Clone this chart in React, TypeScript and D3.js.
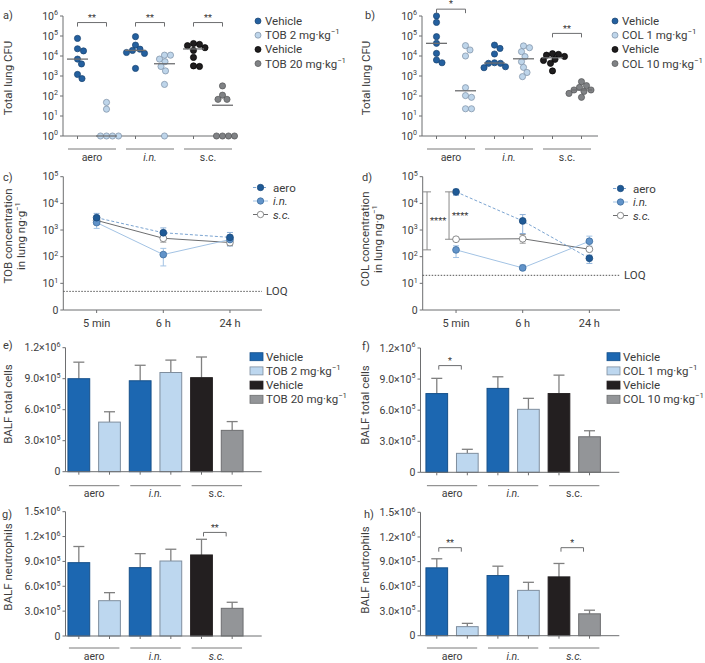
import React, { useEffect, useRef } from "react";
import * as d3 from "d3";

const W = 705;
const H = 663;
const FONT = "Roboto, 'DejaVu Sans', Arial, sans-serif";
const TXT = "#3c3c3c";
const AX = "#6d6e70";

// ---------- data ----------
const groups = ["aero", "i.n.", "s.c."];
const tobLegend = ["Vehicle", "TOB 2 mg·kg^{−1}", "Vehicle", "TOB 20 mg·kg^{−1}"];
const colLegend = ["Vehicle", "COL 1 mg·kg^{−1}", "Vehicle", "COL 10 mg·kg^{−1}"];
// which column's colour each legend row uses
const legendCols = [0, 1, 4, 5];

// a) total lung CFU, tobramycin (one array per column)
const cfuTob = [
  [7.6e4, 1.8e4, 2.3e4, 7e3, 4e3, 1.2e3, 7.4e2],
  [48, 22, 1, 1, 1, 1],
  [9.3e4, 3.5e4, 2.2e4, 1.5e4, 1.35e4, 1.9e4, 2.4e3],
  [1.1e4, 7e3, 5.2e3, 1.1e4, 1.8e3, 3e3, 3.8e2, 1],
  [4.2e4, 2.6e4, 3.3e4, 3.8e4, 1.9e4, 8.5e3, 3e3, 3.2e3],
  [3.2e2, 68, 68, 1.1e2, 1, 1, 1, 1],
];
// b) total lung CFU, colistin
const cfuCol = [
  [1e6, 4.8e5, 9.3e4, 4.3e4, 1.35e4, 4.6e3, 6.3e3],
  [2e4, 3.3e4, 1e4, 2.6e2, 1.05e2, 86, 23, 23],
  [2.4e4, 3.5e4, 1.26e4, 4.3e3, 4.3e3, 4.6e3, 2.6e3, 2.9e3],
  [2.6e4, 3.2e4, 1.65e4, 9.3e3, 5.2e3, 2.7e3, 1.5e3, 9.3e2],
  [1.2e4, 9.5e3, 6.8e3, 4.3e3, 1.1e4, 1.3e4, 1.8e3, 6e3],
  [3.3e2, 2.7e2, 5.2e2, 2e2, 2e2, 1.35e2, 86, 1.7e2],
];
// significance: [column i, column j, bracket level, stars]
const sigA = [[0, 1, 4.7e5, "**"], [2, 3, 4.7e5, "**"], [4, 5, 4.7e5, "**"]];
const sigB = [[0, 1, 2.2e6, "*"], [4, 5, 1.35e5, "**"]];

// c/d) lung concentration: [mean, low, high] per time point
const times = ["5 min", "6 h", "24 h"];
const concSeries = ["aero", "i.n.", "s.c."];
const tobAero = [[2900, 2100, 4200], [790, 520, 1200], [530, 380, 810]];
const tobIn = [[1900, 1150, 2600], [120, 45, 205], [440, 250, 600]];
const tobSc = [[2300, 1600, 3300], [490, 350, 700], [340, 260, 450]];
const colAero = [[2.7e4, 2e4, 3.4e4], [2.2e3, 7.4e2, 3.8e3], [87, 56, 115]];
const colIn = [[180, 93, 257], [38, 32, 49], [380, 250, 590]];
const colSc = [[450, 400, 500], [470, 320, 680], [190, 170, 210]];
const tobLoq = 5;
const colLoq = 20;

// e-h) BALF cells: means and SEM
const cellsTob = [9.0e5, 4.8e5, 8.8e5, 9.6e5, 9.1e5, 4.0e5];
const cellsTobErr = [1.6e5, 1.0e5, 1.5e5, 1.2e5, 2.0e5, 0.85e5];
const cellsCol = [7.6e5, 1.83e5, 8.1e5, 6.08e5, 7.6e5, 3.43e5];
const cellsColErr = [1.47e5, 0.39e5, 1.12e5, 1.06e5, 1.78e5, 0.58e5];
const neutTob = [8.85e5, 4.26e5, 8.25e5, 9.05e5, 9.78e5, 3.34e5];
const neutTobErr = [1.95e5, 0.97e5, 1.69e5, 1.42e5, 1.89e5, 0.73e5];
const neutCol = [8.25e5, 1.1e5, 7.31e5, 5.51e5, 7.15e5, 2.66e5];
const neutColErr = [1.1e5, 0.4e5, 1.14e5, 0.98e5, 1.63e5, 0.44e5];
const sigF = [[0, 1, 1.03e6, "*"]];
const sigG = [[4, 5, 1.25e6, "**"]];
const sigH = [[0, 1, 1.07e6, "**"], [4, 5, 1.07e6, "*"]];

// ---------- styles ----------
const dotFill = ["#24609f", "#bed5ea", "#24609f", "#bed5ea", "#1f1d1e", "#808285"];
const dotStroke = ["#1a4470", "#7b8ea3", "#1a4470", "#7b8ea3", "#000", "#555658"];
const barFill = ["#1c67b1", "#bdd7ef", "#1c67b1", "#bdd7ef", "#231f20", "#939598"];
const barStroke = ["#16508a", "#7f8e9e", "#16508a", "#7f8e9e", "#231f20", "#6d6e70"];

// ---------- helpers ----------
function rich(t: any, s: string, fs: number) {
  const parts = s.split(/\^\{([^}]*)\}/);
  let cur = 0;
  parts.forEach((p, i) => {
    if (p === "") return;
    const sup = i % 2 === 1;
    const target = sup ? -fs * 0.42 : 0;
    t.append("tspan")
      .attr("dy", target - cur)
      .attr("font-size", sup ? fs * 0.68 : fs)
      .text(p);
    cur = target;
  });
}

function text(g: any, x: number, y: number, s: string, o: any = {}) {
  const fs = o.size || 11;
  const t = g
    .append("text")
    .attr("x", x)
    .attr("y", y + fs * 0.35)
    .attr("font-family", FONT)
    .attr("font-size", fs)
    .attr("fill", o.fill || TXT)
    .attr("text-anchor", o.anchor || "start")
    .style("font-style", o.italic ? "italic" : "normal");
  rich(t, s, fs);
  return t;
}

function vtext(g: any, x: number, y: number, s: string, fs = 11.5) {
  const t = g
    .append("text")
    .attr("transform", `translate(${x},${y}) rotate(-90)`)
    .attr("y", fs * 0.35)
    .attr("font-family", FONT)
    .attr("font-size", fs)
    .attr("fill", TXT)
    .attr("text-anchor", "middle");
  rich(t, s, fs);
}

function line(g: any, x1: number, y1: number, x2: number, y2: number, stroke = AX, w = 1) {
  return g
    .append("line")
    .attr("x1", x1)
    .attr("y1", y1)
    .attr("x2", x2)
    .attr("y2", y2)
    .attr("stroke", stroke)
    .attr("stroke-width", w);
}

function yAxis(g: any, x: number, y: any, ticks: number[], fmt: (v: number) => string) {
  const [r0, r1] = y.range();
  line(g, x, r0, x, r1);
  ticks.forEach((v) => {
    line(g, x - 3, y(v), x, y(v));
    text(g, x - 5, y(v), fmt(v), { anchor: "end", size: 10.5 });
  });
}

function bracket(g: any, x1: number, x2: number, y: number, label: string) {
  g.append("path")
    .attr("d", `M${x1},${y + 4}V${y}H${x2}V${y + 4}`)
    .attr("fill", "none")
    .attr("stroke", AX)
    .attr("stroke-width", 1);
  text(g, (x1 + x2) / 2, y - 5, label, { anchor: "middle", size: 9, fill: "#333" });
}

function groupAxis(g: any, centers: number[], half: number, yLine: number, italic: boolean[]) {
  groups.forEach((name, i) => {
    const c0 = centers[2 * i];
    const c1 = centers[2 * i + 1];
    line(g, c0 - half, yLine, c1 + half, yLine, "#7a7a7a", 1);
    text(g, (c0 + c1) / 2, yLine + 8, name, { anchor: "middle", size: 10.5, italic: italic[i] });
  });
}

function swarm(vals: number[], y: any, r: number) {
  const pts = vals.map((v) => ({ v, py: y(v), dx: 0 })).sort((a, b) => a.py - b.py);
  const placed: any[] = [];
  const dmin = 2 * r - 0.2;
  pts.forEach((p) => {
    for (let k = 0; k < 400; k++) {
      const off = (k % 2 ? 1 : -1) * Math.ceil(k / 2) * 0.5;
      const ok = placed.every((q) => (off - q.dx) ** 2 + (p.py - q.py) ** 2 >= dmin * dmin);
      if (ok) {
        p.dx = off;
        break;
      }
    }
    placed.push(p);
  });
  return placed;
}

function legendRows(g: any, x: number, y0: number, labels: string[], mark: (row: any, col: number, y: number) => void) {
  labels.forEach((s, i) => {
    const y = y0 + i * 14.2;
    mark(g, legendCols[i], y);
    text(g, x, y, s, { size: 11.5 });
  });
}

// ---------- panels ----------
function dotPanel(svg: any, p: any) {
  const g = svg.append("g");
  const y = d3.scaleLog().domain([1, 1e6]).range([136, 16]);
  const x = d3.scalePoint<number>().domain(d3.range(6)).range([p.b0, p.b1]).padding(0.5);
  const centers = d3.range(6).map((i) => x(i) as number);

  yAxis(g, p.ax, y, [1, 10, 100, 1e3, 1e4, 1e5, 1e6], (v) => `10^{${Math.round(Math.log10(v))}}`);
  line(g, p.ax, y(1), p.axEnd, y(1));
  centers.forEach((c) => line(g, c, y(1), c, y(1) + 3));
  groupAxis(g, centers, 9.5, 149, [false, true, false]);

  const r = 3.1;
  p.data.forEach((vals: number[], i: number) => {
    swarm(vals, y, r).forEach((q: any) => {
      g.append("circle")
        .attr("cx", centers[i] + q.dx)
        .attr("cy", q.py)
        .attr("r", r)
        .attr("fill", dotFill[i])
        .attr("stroke", dotStroke[i])
        .attr("stroke-width", 0.7);
    });
    const med = d3.median(vals) as number;
    line(g, centers[i] - 10.5, y(med), centers[i] + 10.5, y(med), "#6d6e70", 1.3);
  });

  p.sig.forEach(([i, j, lv, s]: any) => bracket(g, centers[i], centers[j], y(lv), s));

  legendRows(g, p.legX + 7, 21, p.legend, (gg, c, yy) => {
    gg.append("circle")
      .attr("cx", p.legX)
      .attr("cy", yy)
      .attr("r", 3)
      .attr("fill", dotFill[c])
      .attr("stroke", dotStroke[c])
      .attr("stroke-width", 0.7);
  });

  vtext(g, p.labX, 78, "Total lung CFU");
  text(g, p.letterX, 15, p.letter, { size: 11 });
}

const seriesStyle = [
  { line: "#7ba4d1", dash: "3,2", fill: "#1f5a96", stroke: "#1a4a7c", err: "#8fb1d8" },
  { line: "#a3c3e4", dash: null, fill: "#6193c9", stroke: "#3f6f9f", err: "#a3c3e4" },
  { line: "#6d6e70", dash: null, fill: "#fff", stroke: "#6d6e70", err: "#9a9a9a" },
];

function linePanel(svg: any, p: any) {
  const g = svg.append("g");
  const y = d3.scaleLog().domain([1, 1e5]).range([310, 176.7]);
  const x = d3.scalePoint<string>().domain(times).range([p.ax, p.ax + 200]).padding(0.5);

  yAxis(g, p.ax, y, [1, 10, 100, 1e3, 1e4, 1e5], (v) =>
    v === 1 ? "0" : `10^{${Math.round(Math.log10(v))}}`
  );
  line(g, p.ax, y(1), p.axEnd, y(1));
  times.forEach((t) => {
    line(g, x(t) as number, y(1), x(t) as number, y(1) + 3);
    text(g, x(t) as number, y(1) + 13, t, { anchor: "middle", size: 11 });
  });

  // LOQ
  line(g, p.ax, y(p.loq), p.axEnd, y(p.loq), "#555", 1).attr("stroke-dasharray", "1.5,1.5");
  text(g, p.axEnd + 4, y(p.loq), "LOQ", { size: 11.5 });

  const lineGen = d3
    .line<number[]>()
    .x((_, i) => x(times[i]) as number)
    .y((d) => y(d[0]));

  // error bars first
  p.series.forEach((s: number[][], k: number) => {
    const st = seriesStyle[k];
    s.forEach((d, i) => {
      const cx = x(times[i]) as number;
      line(g, cx, y(d[1]), cx, y(d[2]), st.err, 1);
      line(g, cx - 3, y(d[1]), cx + 3, y(d[1]), st.err, 1);
      line(g, cx - 3, y(d[2]), cx + 3, y(d[2]), st.err, 1);
    });
  });
  [2, 1, 0].forEach((k) => {
    const st = seriesStyle[k];
    g.append("path")
      .datum(p.series[k])
      .attr("d", lineGen)
      .attr("fill", "none")
      .attr("stroke", st.line)
      .attr("stroke-width", 1)
      .attr("stroke-dasharray", st.dash);
  });
  [2, 1, 0].forEach((k) => {
    const st = seriesStyle[k];
    p.series[k].forEach((d: number[], i: number) => {
      g.append("circle")
        .attr("cx", x(times[i]) as number)
        .attr("cy", y(d[0]))
        .attr("r", 3.4)
        .attr("fill", st.fill)
        .attr("stroke", st.stroke)
        .attr("stroke-width", 0.8);
    });
  });

  // vertical significance brackets at 5 min
  if (p.vsig) {
    const cx = x(times[0]) as number;
    const top = y(p.series[0][0][0]);
    p.vsig.forEach(([k, s]: any, n: number) => {
      const bot = y(p.series[k][0][0]);
      const bx = n === 0 ? cx - 29 : cx - 7;
      g.append("path")
        .attr("d", `M${bx - 4},${top}H${bx + 4}M${bx},${top}V${bot}M${bx - 4},${bot}H${bx + 4}`)
        .attr("stroke", "#8a8a8a")
        .attr("fill", "none");
      text(g, bx + 3, (top + bot) / 2, s, { size: 9.5, fill: "#333" });
    });
  }

  // legend
  concSeries.forEach((s, k) => {
    const st = seriesStyle[k];
    const yy = p.legY + k * 13.5;
    line(g, p.legX, yy, p.legX + 15, yy, st.line, 1).attr("stroke-dasharray", st.dash);
    g.append("circle")
      .attr("cx", p.legX + 7.5)
      .attr("cy", yy)
      .attr("r", 3.2)
      .attr("fill", st.fill)
      .attr("stroke", st.stroke)
      .attr("stroke-width", 0.8);
    text(g, p.legX + 20, yy, s, { size: 11.5, italic: k > 0 });
  });

  vtext(g, p.labX, p.labY, `${p.drug} concentration`);
  vtext(g, p.labX + 13, p.labY, "in lung ng·g^{−1}");
  text(g, p.letterX, 177, p.letter, { size: 11 });
}

function barFmt(v: number) {
  if (v === 0) return "0";
  const e = Math.floor(Math.log10(v) + 1e-9);
  return `${(v / 10 ** e).toFixed(1)}×10^{${e}}`;
}

function barPanel(svg: any, p: any) {
  const g = svg.append("g");
  const y = d3.scaleLinear().domain([0, p.yMax]).range([p.y0, p.y1]);
  const x = d3
    .scaleBand<number>()
    .domain(d3.range(6))
    .range([p.b0, p.b1])
    .paddingInner(0.29)
    .paddingOuter(0.145);
  const bw = x.bandwidth();
  const centers = d3.range(6).map((i) => (x(i) as number) + bw / 2);

  yAxis(g, p.ax, y, d3.range(0, p.yMax + 1, 3e5), barFmt);

  p.vals.forEach((v: number, i: number) => {
    const cx = centers[i];
    const top = y(v + p.err[i]);
    line(g, cx, y(v), cx, top, "#808080", 1.3);
    line(g, cx - 5.5, top, cx + 5.5, top, "#808080", 1.3);
    g.append("rect")
      .attr("x", x(i) as number)
      .attr("y", y(v))
      .attr("width", bw)
      .attr("height", y(0) - y(v))
      .attr("fill", barFill[i])
      .attr("stroke", barStroke[i])
      .attr("stroke-width", 1);
  });

  line(g, p.ax, y(0), p.axEnd, y(0));
  centers.forEach((c) => line(g, c, y(0), c, y(0) + 3));
  groupAxis(g, centers, bw / 2 - 1, p.groupY, [false, true, p.scItalic]);

  p.sig.forEach(([i, j, lv, s]: any) => bracket(g, centers[i] + 2, centers[j] - 6, y(lv), s));

  if (p.legend) {
    legendRows(g, p.legX + 16, 356.7, p.legend, (gg, c, yy) => {
      gg.append("rect")
        .attr("x", p.legX)
        .attr("y", yy - 4)
        .attr("width", 13)
        .attr("height", 8)
        .attr("fill", barFill[c])
        .attr("stroke", barStroke[c])
        .attr("stroke-width", 0.8);
    });
  }

  vtext(g, p.labX, p.labY, p.yLabel);
  text(g, p.letterX, p.letterY, p.letter, { size: 11 });
}

export default function App() {
  const ref = useRef<SVGSVGElement>(null);

  useEffect(() => {
    const svg = d3.select(ref.current);
    svg.selectAll("*").remove();
    svg.append("rect").attr("width", W).attr("height", H).attr("fill", "#fff");

    dotPanel(svg, {
      data: cfuTob, legend: tobLegend, sig: sigA,
      ax: 63, axEnd: 237, b0: 63, b1: 237, legX: 258, labX: 8, letter: "a)", letterX: 3,
    });
    dotPanel(svg, {
      data: cfuCol, legend: colLegend, sig: sigB,
      ax: 422, axEnd: 598, b0: 422, b1: 596, legX: 615, labX: 366, letter: "b)", letterX: 365,
    });

    linePanel(svg, {
      series: [tobAero, tobIn, tobSc], loq: tobLoq, drug: "TOB",
      ax: 63.3, axEnd: 262, legX: 253, legY: 187.5, labX: 8, labY: 236, letter: "c)", letterX: 3,
    });
    linePanel(svg, {
      series: [colAero, colIn, colSc], loq: colLoq, drug: "COL", vsig: [[1, "****"], [2, "****"]],
      ax: 422.7, axEnd: 620, legX: 613, legY: 188.5, labX: 365, labY: 239, letter: "d)", letterX: 362,
    });

    barPanel(svg, {
      vals: cellsTob, err: cellsTobErr, sig: [], legend: tobLegend, legX: 250,
      yMax: 1.2e6, y0: 471.7, y1: 347.7, ax: 65.5, axEnd: 261.7, b0: 63.5, b1: 247.5,
      groupY: 485.7, scItalic: false, yLabel: "BALF total cells", labX: 8, labY: 404,
      letter: "e)", letterX: 3, letterY: 345,
    });
    barPanel(svg, {
      vals: cellsCol, err: cellsColErr, sig: sigF, legend: colLegend, legX: 607,
      yMax: 1.2e6, y0: 472.3, y1: 348, ax: 420.5, axEnd: 619.3, b0: 421.5, b1: 604.8,
      groupY: 485.7, scItalic: false, yLabel: "BALF total cells", labX: 365, labY: 405,
      letter: "f)", letterX: 362, letterY: 346,
    });
    barPanel(svg, {
      vals: neutTob, err: neutTobErr, sig: sigG, legend: null,
      yMax: 1.5e6, y0: 636, y1: 511.7, ax: 65.5, axEnd: 261.7, b0: 63.5, b1: 247.5,
      groupY: 648, scItalic: true, yLabel: "BALF neutrophils", labX: 8, labY: 567,
      letter: "g)", letterX: 2, letterY: 514,
    });
    barPanel(svg, {
      vals: neutCol, err: neutColErr, sig: sigH, legend: null,
      yMax: 1.5e6, y0: 635.7, y1: 512.3, ax: 420.5, axEnd: 619.3, b0: 421.5, b1: 604.8,
      groupY: 648, scItalic: true, yLabel: "BALF neutrophils", labX: 365, labY: 570,
      letter: "h)", letterX: 364, letterY: 514,
    });
  }, []);

  return (
    <svg
      ref={ref}
      width={W}
      height={H}
      style={{ position: "absolute", left: 0, top: 0 }}
    />
  );
}
